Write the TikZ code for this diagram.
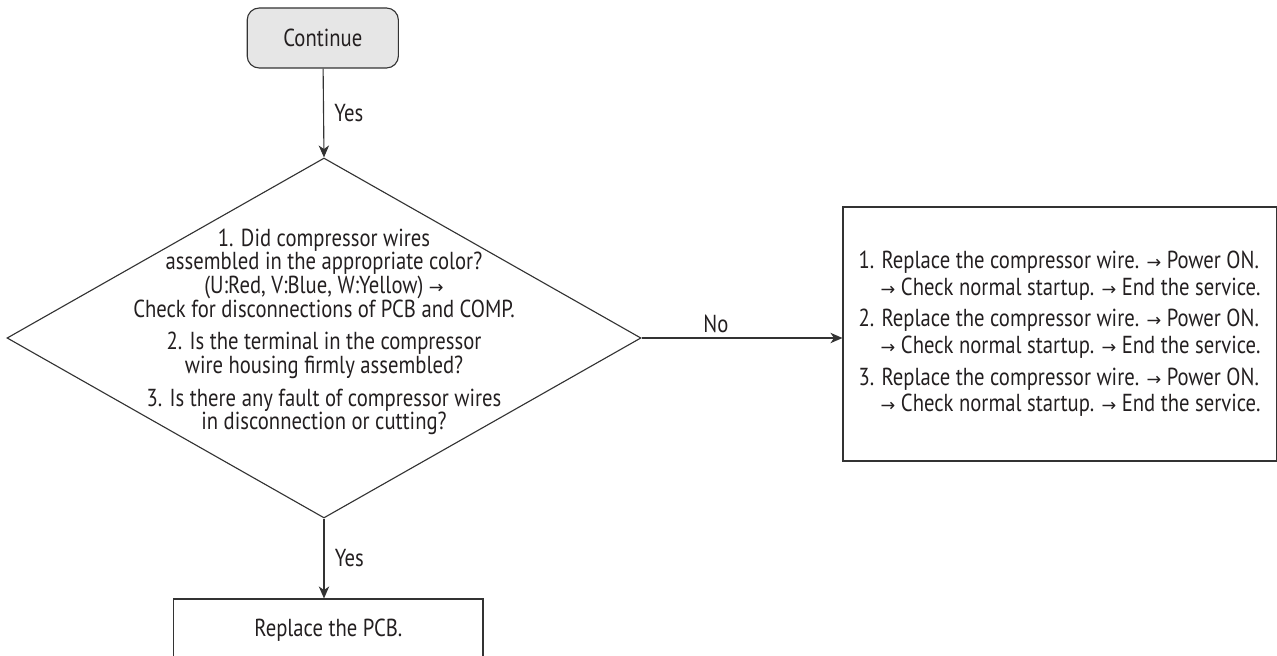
\documentclass[tikz,border=0pt]{standalone}
\usepackage{fontspec}
\setmainfont{PT Sans}[FakeStretch=0.84]
\newfontfamily\arrowfont{DejaVu Sans}
\usepackage{xcolor}
\usepackage{tikz}
\usetikzlibrary{shapes.geometric, arrows.meta, positioning}

\definecolor{linegray}{HTML}{333333}
\definecolor{textgray}{HTML}{231F20}
\definecolor{startfill}{HTML}{E6E6E6}
\newcommand{\toarr}{{\arrowfont\fontsize{12.5}{12.5}\selectfont →}}

\begin{document}
\begin{tikzpicture}[
    % Define simple, standard styles
    startbox/.style={rectangle, draw=linegray, line width=0.8pt, rounded corners=0.3cm, fill=startfill, minimum width=3.78cm, minimum height=1.5cm, font=\fontsize{17.5}{19}\selectfont, text=textgray},
    checkbox/.style={diamond, draw=linegray, line width=0.8pt, inner sep=0pt, minimum width=15.85cm, minimum height=9cm},
    checktext/.style={align=center, font=\fontsize{17.5}{16.8}\selectfont, text=textgray},
    actbox/.style={rectangle, draw=linegray, line width=0.8pt, align=left, font=\fontsize{17.5}{19}\selectfont, text=textgray},
    lbl/.style={font=\fontsize{17.5}{19}\selectfont, text=textgray},
    arrow/.style={line width=0.8pt, -{Stealth[length=3mm, width=2.6mm, inset=0.9mm]}, draw=linegray}
]
\useasboundingbox (0,0) rectangle (31.925,-16.4);

% 1. Top Node: start of this branch
\node[startbox] (cont) at (8.07, -0.95) {Continue};

% 2. The check (diamond outline and its text)
\node[checkbox] (chk) at (8.1, -8.45) {};
\node[checktext] (chktext) at (8.1, -8.3) {1. Did compressor wires\\
    assembled in the appropriate color?\\
    (U:Red, V:Blue, W:Yellow) \toarr\\
    Check for disconnections of PCB and COMP.\\[6.5pt]
    2. Is the terminal in the compressor\\
    wire housing firmly assembled?\\[6.5pt]
    3. Is there any fault of compressor wires\\
    in disconnection or cutting?};

% 3. Outcome nodes
\node[actbox, minimum width=10.83cm, minimum height=6.35cm] (fix) at (26.49, -8.35) {1. Replace the compressor wire. \toarr{} Power ON.\\
    \hspace*{0.9em}\toarr{} Check normal startup. \toarr{} End the service.\\[3.5pt]
    2. Replace the compressor wire. \toarr{} Power ON.\\
    \hspace*{0.9em}\toarr{} Check normal startup. \toarr{} End the service.\\[3.5pt]
    3. Replace the compressor wire. \toarr{} Power ON.\\
    \hspace*{0.9em}\toarr{} Check normal startup. \toarr{} End the service.};
\node[actbox, align=center, minimum width=7.73cm, minimum height=1.55cm] (pcb) at (8.21, -15.75) {Replace the PCB.};

% Draw the connecting arrows
\draw[arrow] (cont) -- node[lbl, right=4pt] (yestop) {Yes} (chk.north);
\draw[arrow] (chk.east) -- node[lbl, above, pos=0.37] (no) {No} (chk.east -| fix.west);
\draw[arrow] (chk.south) -- node[lbl, right=4pt] (yesbot) {Yes} (chk.south |- pcb.north);

\end{tikzpicture}
\end{document}
